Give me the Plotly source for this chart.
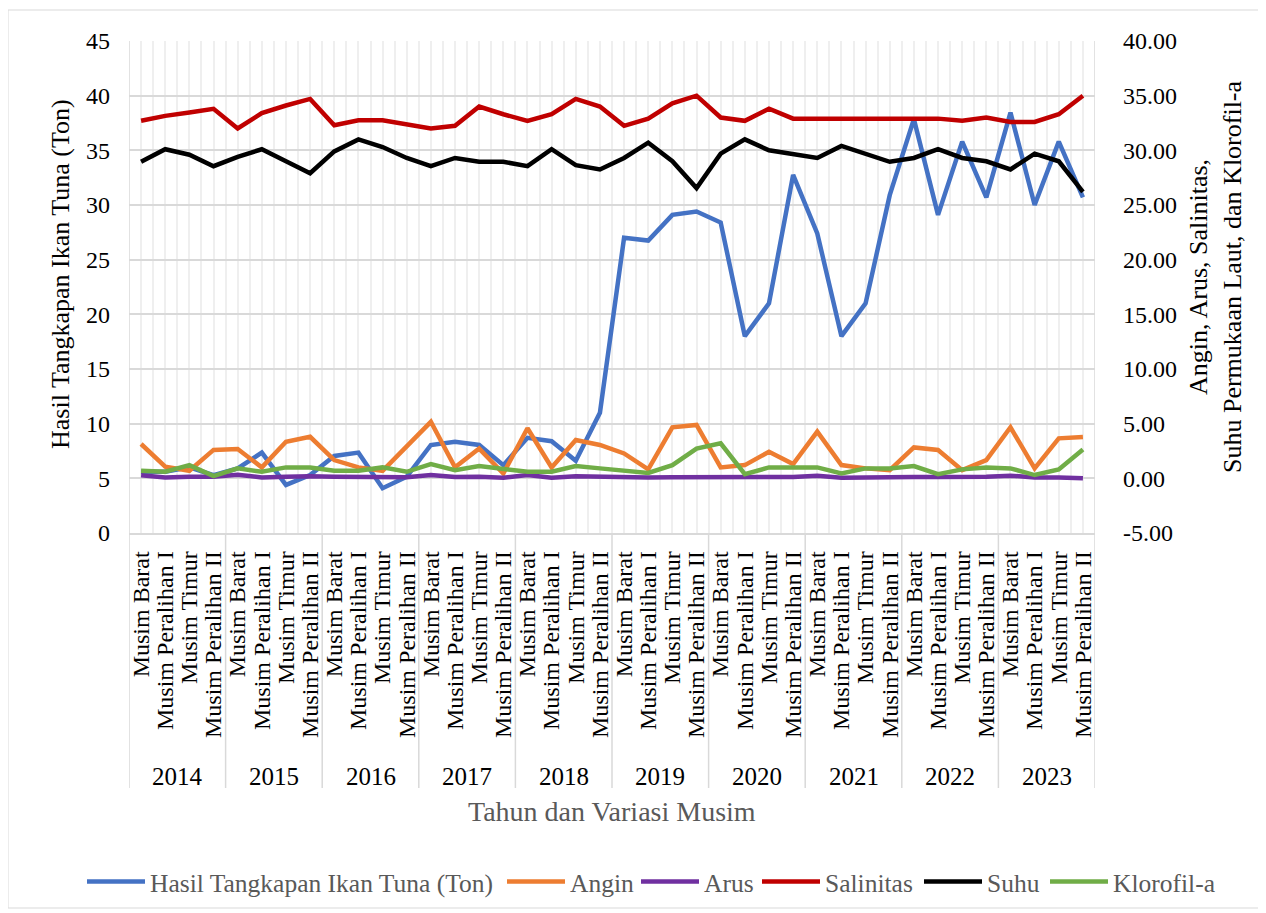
import plotly.graph_objects as go

years = ["2014", "2015", "2016", "2017", "2018", "2019", "2020", "2021", "2022", "2023"]
seasons = ["Musim Barat", "Musim Peralihan I", "Musim Timur", "Musim Peralihan II"]

tangkapan = [5.6, 5.6, 6.0, 5.3, 5.9, 7.35, 4.4, 5.3, 7.05, 7.35, 4.1, 5.15, 8.05, 8.35, 8.05, 6.2,
             8.7, 8.4, 6.6, 11.0, 27.0, 26.75, 29.1, 29.4, 28.4, 18.0, 21.0, 32.75, 27.4, 18.0,
             21.0, 30.9, 37.85, 29.1, 35.8, 30.7, 38.45, 30.0, 35.8, 30.7]
angin = [3.14, 1.06, 0.69, 2.6, 2.68, 1.0, 3.35, 3.8, 1.67, 1.0, 0.69, 2.95, 5.17, 1.0, 2.72, 0.44,
         4.58, 1.0, 3.5, 3.05, 2.28, 0.82, 4.67, 4.88, 1.0, 1.21, 2.43, 1.3, 4.27, 1.21,
         0.91, 0.75, 2.83, 2.59, 0.75, 1.67, 4.67, 0.91, 3.66, 3.79]
arus = [0.28, 0.08, 0.14, 0.14, 0.32, 0.08, 0.14, 0.2, 0.14, 0.12, 0.1, 0.1, 0.3, 0.12, 0.14, 0.05,
        0.3, 0.05, 0.2, 0.14, 0.1, 0.08, 0.1, 0.1, 0.12, 0.18, 0.08, 0.12, 0.24, 0.05,
        0.08, 0.14, 0.12, 0.12, 0.1, 0.14, 0.24, 0.08, 0.08, 0.0]
salinitas = [32.7, 33.15, 33.46, 33.8, 32.0, 33.4, 34.1, 34.7, 32.3, 32.75, 32.75, 32.4, 32.0, 32.24,
             34.0, 33.3, 32.7, 33.3, 34.7, 34.0, 32.24, 32.9, 34.3, 35.0, 33.0, 32.7, 33.8, 32.9,
             32.9, 32.9, 32.9, 32.9, 32.9, 32.9, 32.7, 33.0, 32.6, 32.6, 33.3, 35.0]
suhu = [28.95, 30.1, 29.6, 28.55, 29.4, 30.1, 29.0, 27.9, 29.9, 31.0, 30.3, 29.3, 28.55, 29.3, 28.95,
        28.95, 28.55, 30.1, 28.65, 28.25, 29.3, 30.7, 29.0, 26.55, 29.7, 31.0, 30.0, 29.7, 29.3,
        30.4, 29.7, 28.95, 29.3, 30.1, 29.3, 29.0, 28.25, 29.7, 29.0, 26.2]
klorofil = [0.69, 0.6, 1.21, 0.2, 0.91, 0.6, 1.0, 1.0, 0.69, 0.69, 1.0, 0.6, 1.3, 0.75, 1.12, 0.82,
            0.6, 0.6, 1.12, 0.91, 0.75, 0.5, 1.21, 2.72, 3.2, 0.38, 1.0, 1.0, 1.0, 0.44,
            0.91, 0.91, 1.12, 0.38, 0.82, 1.0, 0.91, 0.3, 0.82, 2.63]

right_ticks = [-5, 0, 5, 10, 15, 20, 25, 30, 35, 40]
right_ticktext = ["-5.00", "0.00", "5.00", "10.00", "15.00", "20.00", "25.00", "30.00", "35.00", "40.00"]

FONT = "Liberation Serif"
n = len(years) * len(seasons)
xs = list(range(n))
labels = [s for y in years for s in seasons]

OFF = 8  # page body margin
W, H = 1258, 905
L, T = 121, 33
R = W - (1095 - OFF)
B = H - (533 - OFF)
pw, ph = W - L - R, H - T - B


def px(xs_):
    return (xs_ - OFF - L) / pw


def py(ys_):
    return (H - B - (ys_ - OFF)) / ph


series = [("Hasil Tangkapan Ikan Tuna (Ton)", tangkapan, "#4472C4", "y"),
          ("Angin", angin, "#ED7D31", "y2"),
          ("Arus", arus, "#7030A0", "y2"),
          ("Salinitas", salinitas, "#C00000", "y2"),
          ("Suhu", suhu, "#000000", "y2"),
          ("Klorofil-a", klorofil, "#70AD47", "y2")]
legend_starts = [88, 508, 642, 763, 925, 1051]

fig = go.Figure()
legends = {}
for i, (name, vals, col, ax) in enumerate(series):
    lg = "legend" if i == 0 else f"legend{i + 1}"
    fig.add_trace(go.Scatter(x=xs, y=vals, name=name, mode="lines", legend=lg,
                             line=dict(color=col, width=4.5), yaxis=ax))
    legends[lg] = dict(orientation="h", x=px(legend_starts[i] - 6), y=py(882), xanchor="left",
                       yanchor="middle", font=dict(family=FONT, size=25.5, color="#595959"),
                       itemwidth=58, bgcolor="rgba(0,0,0,0)", borderwidth=0)

shapes = []
for k in range(len(years) + 1):
    shapes.append(dict(type="line", xref="x", yref="paper", x0=-0.5 + 4 * k, x1=-0.5 + 4 * k,
                       y0=0, y1=py(788), line=dict(color="#d9d9d9", width=1.5), layer="below"))
for xe in (-0.5, n - 0.5):
    shapes.append(dict(type="line", xref="x", yref="paper", x0=xe, x1=xe, y0=0, y1=1,
                       line=dict(color="#d9d9d9", width=1.5), layer="below"))
shapes.append(dict(type="rect", xref="paper", yref="paper", x0=px(8), x1=px(1262), y0=py(908), y1=py(10),
                   line=dict(color="#d9d9d9", width=1), layer="below"))

annotations = []
for k, yr in enumerate(years):
    annotations.append(dict(x=1.5 + 4 * k, y=py(776), xref="x", yref="paper", text=yr, showarrow=False,
                            xanchor="center", yanchor="middle", font=dict(family=FONT, size=25, color="#000")))
annotations.append(dict(x=px(612), y=py(812), xref="paper", yref="paper", text="Tahun dan Variasi Musim",
                        showarrow=False, xanchor="center", yanchor="middle",
                        font=dict(family=FONT, size=28, color="#595959")))
annotations.append(dict(x=px(60), y=py(274), xref="paper", yref="paper", text="Hasil Tangkapan Ikan Tuna (Ton)",
                        showarrow=False, textangle=-90, xanchor="center", yanchor="middle",
                        font=dict(family=FONT, size=26, color="#000")))
annotations.append(dict(x=px(1215), y=py(277), xref="paper", yref="paper",
                        text="Angin, Arus, Salinitas,<br>Suhu Permukaan Laut, dan Klorofil-a",
                        showarrow=False, textangle=-90, xanchor="center", yanchor="middle",
                        font=dict(family=FONT, size=26, color="#000")))

fig.update_layout(
    width=W, height=H,
    margin=dict(l=L, r=R, t=T, b=B, autoexpand=False),
    paper_bgcolor="white", plot_bgcolor="white",
    font=dict(family=FONT, color="#000"),
    showlegend=True,
    xaxis=dict(range=[-0.5, n - 0.5], tickmode="array", tickvals=xs, ticktext=labels, tickangle=-90,
               ticks="", showgrid=True, gridcolor="#efefef", gridwidth=1.5, zeroline=False,
               showline=True, linecolor="#d9d9d9", linewidth=1.5, ticklabelstandoff=7,
               minor=dict(tickmode="linear", tick0=-0.5, dtick=1, showgrid=True, gridcolor="#efefef", gridwidth=1.5),
               tickfont=dict(family=FONT, size=24, color="#000")),
    yaxis=dict(range=[0, 45], dtick=5, tick0=0, showgrid=True, gridcolor="#d9d9d9", gridwidth=1.5,
               zeroline=False, showline=False, ticks="", ticklabelstandoff=18,
               tickfont=dict(family=FONT, size=24, color="#000")),
    yaxis2=dict(range=[-5, 40], tickmode="array", tickvals=right_ticks, ticktext=right_ticktext,
                overlaying="y", side="right", showgrid=False,
                zeroline=False, showline=False, ticks="", ticklabelstandoff=27,
                tickfont=dict(family=FONT, size=24, color="#000")),
    shapes=shapes,
    annotations=annotations,
    **legends,
)

fig.write_html("out.html")
